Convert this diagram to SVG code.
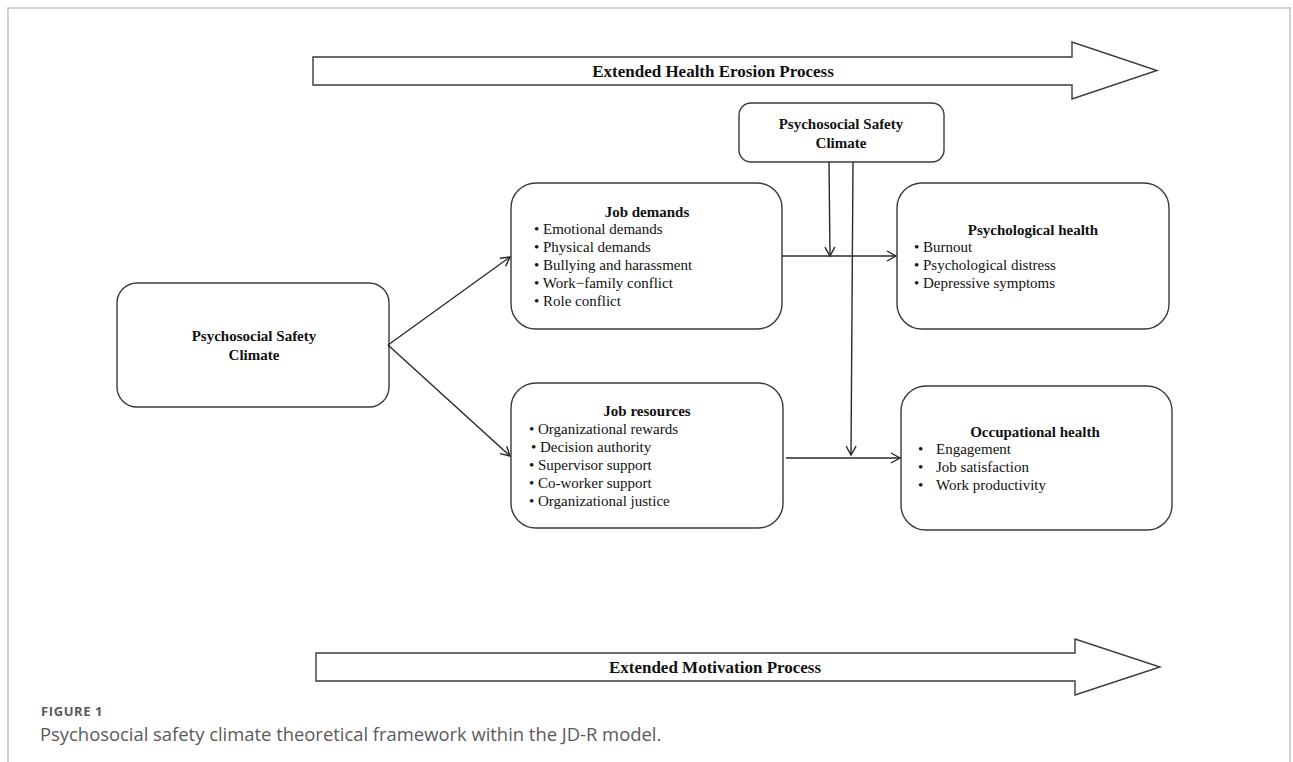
<svg xmlns="http://www.w3.org/2000/svg" width="1293" height="762" viewBox="0 0 1293 762">
<style>
.box{fill:#fff;stroke:#3a3a3a;stroke-width:1.4}
.conn{stroke:#2a2a2a;stroke-width:1.4;fill:none}
.t{font-family:"Liberation Serif","Times New Roman",serif;font-size:15px;fill:#111}
.b{font-weight:bold}
.mid{text-anchor:middle}
.big{font-size:17px}
.cap{font-family:"Open Sans","Noto Sans",sans-serif;fill:#5a5a5a}
</style>
<defs>
<marker id="ah" markerUnits="userSpaceOnUse" markerWidth="12" markerHeight="12" viewBox="0 0 12 12" refX="10" refY="6" orient="auto">
<path d="M1,1 L10,6 L1,11" fill="none" stroke="#2a2a2a" stroke-width="1.4"/>
</marker>
</defs>
<rect width="1293" height="762" fill="#fff"/>
<path d="M8,770 L8,8 L1290,8 L1290,770" fill="none" stroke="#c4c4c4" stroke-width="1.5"/>

<g id="arrow-health-erosion">
<polygon class="box" points="313,57 1072,57 1072,42 1157,70.5 1072,99 1072,85 313,85"/>
<text class="t b mid big" x="713" y="76.5">Extended Health Erosion Process</text>
</g>
<g id="arrow-motivation">
<polygon class="box" points="316,653 1075,653 1075,639 1160,667 1075,695 1075,681 316,681"/>
<text class="t b mid big" x="715" y="673">Extended Motivation Process</text>
</g>

<g id="psc-left">
<rect class="box" x="117" y="283" width="272" height="124" rx="20"/>
<text class="t b mid" x="254" y="341">Psychosocial Safety</text>
<text class="t b mid" x="254" y="360">Climate</text>
</g>
<g id="psc-top">
<rect class="box" x="739" y="103" width="205" height="59" rx="12"/>
<text class="t b mid" x="841" y="129">Psychosocial Safety</text>
<text class="t b mid" x="841" y="148">Climate</text>
</g>
<g id="job-demands">
<rect class="box" x="511" y="183" width="271" height="146" rx="25"/>
<text class="t b mid" x="647" y="217">Job demands</text>
<text class="t" x="534" y="234">• Emotional  demands</text>
<text class="t" x="534" y="252">• Physical demands</text>
<text class="t" x="534" y="270">• Bullying  and harassment</text>
<text class="t" x="534" y="288">• Work−family conflict</text>
<text class="t" x="534" y="306">• Role conflict</text>
</g>
<g id="job-resources">
<rect class="box" x="511" y="383" width="272" height="145" rx="25"/>
<text class="t b mid" x="647" y="416">Job resources</text>
<text class="t" x="529" y="434">• Organizational  rewards</text>
<text class="t" x="531" y="452">•  Decision authority</text>
<text class="t" x="529" y="470">• Supervisor support</text>
<text class="t" x="529" y="488">• Co-worker support</text>
<text class="t" x="529" y="506">• Organizational  justice</text>
</g>
<g id="psychological-health">
<rect class="box" x="897" y="183" width="272" height="146" rx="25"/>
<text class="t b mid" x="1033" y="235">Psychological health</text>
<text class="t" x="914" y="252">• Burnout</text>
<text class="t" x="914" y="270">• Psychological distress</text>
<text class="t" x="914" y="288">• Depressive symptoms</text>
</g>
<g id="occupational-health">
<rect class="box" x="901" y="386" width="271" height="144" rx="25"/>
<text class="t b mid" x="1035" y="437">Occupational health</text>
<text class="t" x="918" y="454">•</text><text class="t" x="936" y="454">Engagement</text>
<text class="t" x="918" y="472">•</text><text class="t" x="936" y="472">Job satisfaction</text>
<text class="t" x="918" y="490">•</text><text class="t" x="936" y="490">Work productivity</text>
</g>

<g id="connectors">
<line class="conn" x1="388" y1="345" x2="510" y2="257" marker-end="url(#ah)"/>
<line class="conn" x1="388" y1="345" x2="510" y2="456" marker-end="url(#ah)"/>
<line class="conn" x1="782" y1="256" x2="896" y2="256" marker-end="url(#ah)"/>
<line class="conn" x1="829" y1="162" x2="830" y2="256" marker-end="url(#ah)"/>
<line class="conn" x1="853" y1="162" x2="851" y2="455" marker-end="url(#ah)"/>
<line class="conn" x1="786" y1="458" x2="900" y2="458" marker-end="url(#ah)"/>
</g>

<g id="caption">
<text class="cap" x="41" y="716" font-size="13" font-weight="bold" letter-spacing="0.6">FIGURE 1</text>
<text class="cap" x="40" y="741" font-size="18.4">Psychosocial safety climate theoretical framework within the JD-R model.</text>
</g>
</svg>
